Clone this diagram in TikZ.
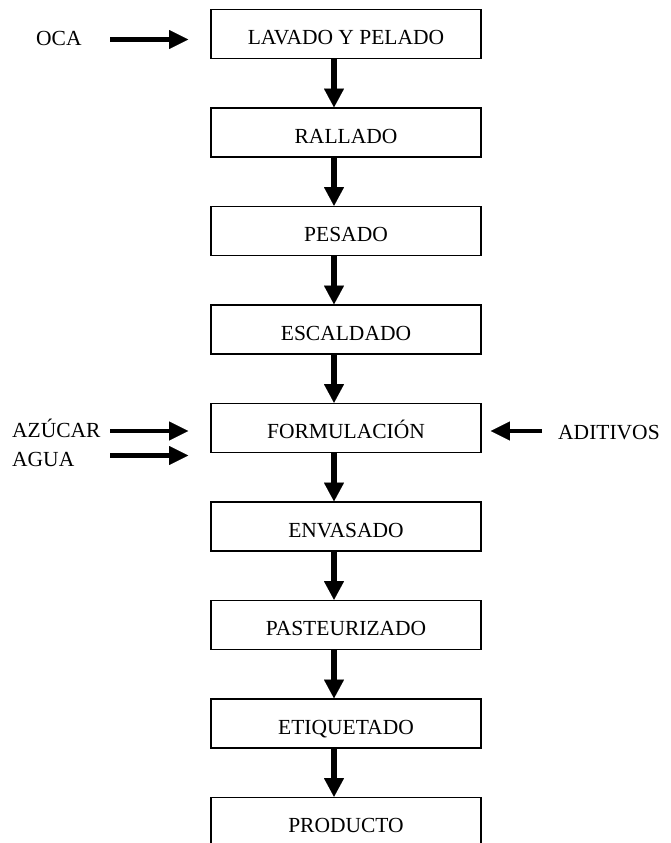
\documentclass[tikz,border=0pt]{standalone}
\usepackage{fontspec}
\setmainfont{Liberation Serif}
\usetikzlibrary{arrows.meta}
\begin{document}
\begin{tikzpicture}[x=1pt,y=-1pt,
  stepbox/.style={draw, line width=1.6pt, minimum width=270pt, minimum height=49pt,
    inner sep=0pt, text height=21pt, text depth=0pt, font=\fontsize{21.5}{25}\selectfont},
  lbl/.style={inner sep=0pt, anchor=base west, font=\fontsize{21.5}{25}\selectfont},
  down/.style={line width=6pt, -{Triangle[width=20pt,length=18.5pt,line width=0.01pt]}},
  side/.style={line width=4.2pt, shorten >=22pt, -{Triangle[width=19pt,length=19pt,line width=0.01pt]}},
  sider/.style={line width=4.2pt, shorten >=9pt, -{Triangle[width=19pt,length=19pt,line width=0.01pt]}}]
\useasboundingbox (0,0) rectangle (670,843);

\node[stepbox] (b1) at (346,34) {LAVADO Y PELADO};
\node[stepbox] (b2) at (346,132.5) {RALLADO};
\node[stepbox] (b3) at (346,231) {PESADO};
\node[stepbox] (b4) at (346,329.5) {ESCALDADO};
\node[stepbox] (b5) at (346,428) {FORMULACIÓN};
\node[stepbox] (b6) at (346,526.5) {ENVASADO};
\node[stepbox] (b7) at (346,625) {PASTEURIZADO};
\node[stepbox] (b8) at (346,723.5) {ETIQUETADO};
\node[stepbox] (b9) at (346,822) {PRODUCTO};

\coordinate (ax) at (334,0);
\foreach \a/\b in {b1/b2,b2/b3,b3/b4,b4/b5,b5/b6,b6/b7,b7/b8,b8/b9}
  \draw[down] (\a.south -| ax) -- (\b.north -| ax);

\node[lbl] (oca) at (36,45.5) {OCA};
\node[lbl] (azu) at (12,437) {AZÚCAR};
\node[lbl] (agu) at (12,466) {AGUA};
\node[lbl] (adi) at (558,439) {ADITIVOS};

\coordinate (ocaS) at (110,39.5);
\coordinate (azuS) at (110,431);
\coordinate (aguS) at (110,455.5);
\coordinate (adiS) at (542,431);
\draw[side] (ocaS) -- (ocaS -| b1.west);
\draw[side] (azuS) -- (azuS -| b5.west);
\draw[side] (aguS) -- (aguS -| b5.west);
\draw[sider] (adiS) -- (adiS -| b5.east);
\end{tikzpicture}
\end{document}
